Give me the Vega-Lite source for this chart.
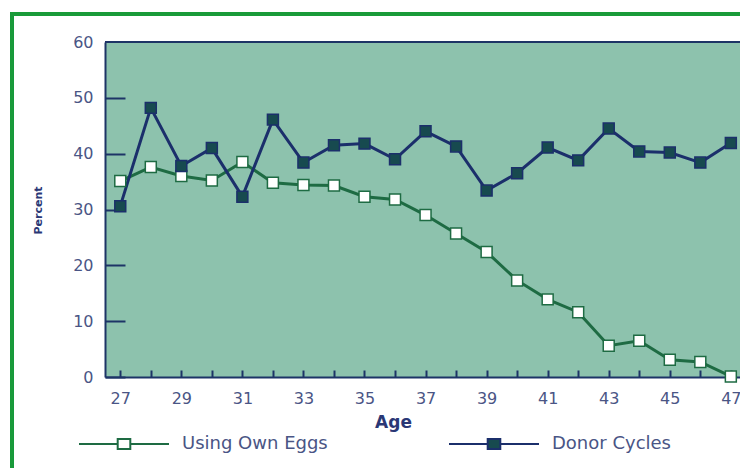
{
  "$schema": "https://vega.github.io/schema/vega-lite/v6.json",
  "autosize": {"type": "none"},
  "width": 635,
  "height": 335,
  "padding": {"left": 105, "top": 42, "right": 0, "bottom": 91},
  "background": "white",
  "config": {
    "view": {"stroke": null, "fill": "#8dc2ad"},
    "font": "DejaVu Sans",
    "axis": {"labelFont": "DejaVu Sans", "titleFont": "DejaVu Sans"}
  },
  "data": {
    "values": [
      {"age": 27, "series": "Using Own Eggs", "pct": 35.1},
      {"age": 28, "series": "Using Own Eggs", "pct": 37.6},
      {"age": 29, "series": "Using Own Eggs", "pct": 36.0},
      {"age": 30, "series": "Using Own Eggs", "pct": 35.2},
      {"age": 31, "series": "Using Own Eggs", "pct": 38.5},
      {"age": 32, "series": "Using Own Eggs", "pct": 34.8},
      {"age": 33, "series": "Using Own Eggs", "pct": 34.4},
      {"age": 34, "series": "Using Own Eggs", "pct": 34.3},
      {"age": 35, "series": "Using Own Eggs", "pct": 32.3},
      {"age": 36, "series": "Using Own Eggs", "pct": 31.8},
      {"age": 37, "series": "Using Own Eggs", "pct": 29.0},
      {"age": 38, "series": "Using Own Eggs", "pct": 25.7},
      {"age": 39, "series": "Using Own Eggs", "pct": 22.4},
      {"age": 40, "series": "Using Own Eggs", "pct": 17.3},
      {"age": 41, "series": "Using Own Eggs", "pct": 13.9},
      {"age": 42, "series": "Using Own Eggs", "pct": 11.6},
      {"age": 43, "series": "Using Own Eggs", "pct": 5.6},
      {"age": 44, "series": "Using Own Eggs", "pct": 6.5},
      {"age": 45, "series": "Using Own Eggs", "pct": 3.1},
      {"age": 46, "series": "Using Own Eggs", "pct": 2.7},
      {"age": 47, "series": "Using Own Eggs", "pct": 0.1},
      {"age": 27, "series": "Donor Cycles", "pct": 30.6},
      {"age": 28, "series": "Donor Cycles", "pct": 48.2},
      {"age": 29, "series": "Donor Cycles", "pct": 37.8},
      {"age": 30, "series": "Donor Cycles", "pct": 41.0},
      {"age": 31, "series": "Donor Cycles", "pct": 32.3},
      {"age": 32, "series": "Donor Cycles", "pct": 46.1},
      {"age": 33, "series": "Donor Cycles", "pct": 38.4},
      {"age": 34, "series": "Donor Cycles", "pct": 41.5},
      {"age": 35, "series": "Donor Cycles", "pct": 41.8},
      {"age": 36, "series": "Donor Cycles", "pct": 39.0},
      {"age": 37, "series": "Donor Cycles", "pct": 44.0},
      {"age": 38, "series": "Donor Cycles", "pct": 41.3},
      {"age": 39, "series": "Donor Cycles", "pct": 33.4},
      {"age": 40, "series": "Donor Cycles", "pct": 36.5},
      {"age": 41, "series": "Donor Cycles", "pct": 41.1},
      {"age": 42, "series": "Donor Cycles", "pct": 38.8},
      {"age": 43, "series": "Donor Cycles", "pct": 44.5},
      {"age": 44, "series": "Donor Cycles", "pct": 40.4},
      {"age": 45, "series": "Donor Cycles", "pct": 40.2},
      {"age": 46, "series": "Donor Cycles", "pct": 38.4},
      {"age": 47, "series": "Donor Cycles", "pct": 41.9}
    ]
  },
  "encoding": {
    "x": {
      "field": "age", "type": "quantitative",
      "scale": {"domain": [26.5, 47.3], "nice": false, "zero": false},
      "axis": {
        "title": "Age",
        "values": [27,28,29,30,31,32,33,34,35,36,37,38,39,40,41,42,43,44,45,46,47],
        "labelExpr": "datum.value % 2 == 1 ? datum.label : ''",
        "grid": false,
        "domainColor": "#1d3466", "domainWidth": 2,
        "tickColor": "#1d3466", "tickWidth": 2, "tickSize": -7,
        "labelColor": "#4a5585", "labelFontSize": 16, "labelPadding": 20,
        "titleColor": "#2a3775", "titleFontSize": 17, "titleFontWeight": "bold",
        "titleX": 288, "titleY": 45, "titleBaseline": "middle"
      }
    },
    "y": {
      "field": "pct", "type": "quantitative",
      "scale": {"domain": [0, 60], "nice": false},
      "axis": {
        "title": "Percent",
        "values": [0, 10, 20, 30, 40, 50, 60],
        "grid": false,
        "domainColor": "#1d3466", "domainWidth": 2,
        "tickColor": "#1d3466", "tickWidth": 2, "tickSize": -20,
        "tickOpacity": {"condition": {"test": "datum.value == 60", "value": 0}, "value": 1},
        "labelColor": "#4a5585", "labelFontSize": 16, "labelPadding": 32,
        "titleColor": "#2a3775", "titleFontSize": 11, "titleFontWeight": "bold",
        "titleX": -62, "titleY": 168, "titleAngle": -90
      }
    }
  },
  "layer": [
    {
      "mark": {"type": "rect", "fill": null, "stroke": "#1a9a3a", "strokeWidth": 2.5, "clip": false},
      "encoding": {
        "x": {"datum": 23.45},
        "x2": {"datum": 60},
        "y": {"datum": 65},
        "y2": {"datum": -40}
      }
    },
    {
      "mark": {"type": "rule", "stroke": "#1d3466", "strokeWidth": 2},
      "encoding": {"y": {"datum": 60}, "x": null}
    },
    {
      "mark": {"type": "line", "strokeWidth": 3},
      "encoding": {
        "stroke": {
          "field": "series", "type": "nominal",
          "scale": {"domain": ["Using Own Eggs", "Donor Cycles"], "range": ["#1e6b43", "#1b2f6b"]},
          "legend": {
            "title": null, "orient": "none", "legendX": -27, "legendY": 356,
            "direction": "horizontal", "columns": 2, "columnPadding": 117,
            "symbolType": "M-1,0H-0.14M0.14,0H1M-0.14,-0.11H0.14V0.11H-0.14Z",
            "symbolSize": 8100, "symbolStrokeWidth": 2,
            "labelFontSize": 18, "labelColor": "#4a5585", "labelOffset": 12
          }
        },
        "order": {"field": "age"}
      }
    },
    {
      "mark": {"type": "point", "shape": "square", "filled": false, "size": 120, "strokeWidth": 1.5, "opacity": 1},
      "encoding": {
        "stroke": {"field": "series", "type": "nominal"},
        "fill": {
          "field": "series", "type": "nominal",
          "scale": {"domain": ["Using Own Eggs", "Donor Cycles"], "range": ["#ffffff", "#174a4f"]},
          "legend": {
            "title": null, "orient": "none", "legendX": -27, "legendY": 356,
            "direction": "horizontal", "columns": 2, "columnPadding": 117,
            "symbolType": "M-1,0H-0.14M0.14,0H1M-0.14,-0.11H0.14V0.11H-0.14Z",
            "symbolSize": 8100, "symbolStrokeWidth": 2,
            "labelFontSize": 18, "labelColor": "#4a5585", "labelOffset": 12
          }
        }
      }
    }
  ]
}
